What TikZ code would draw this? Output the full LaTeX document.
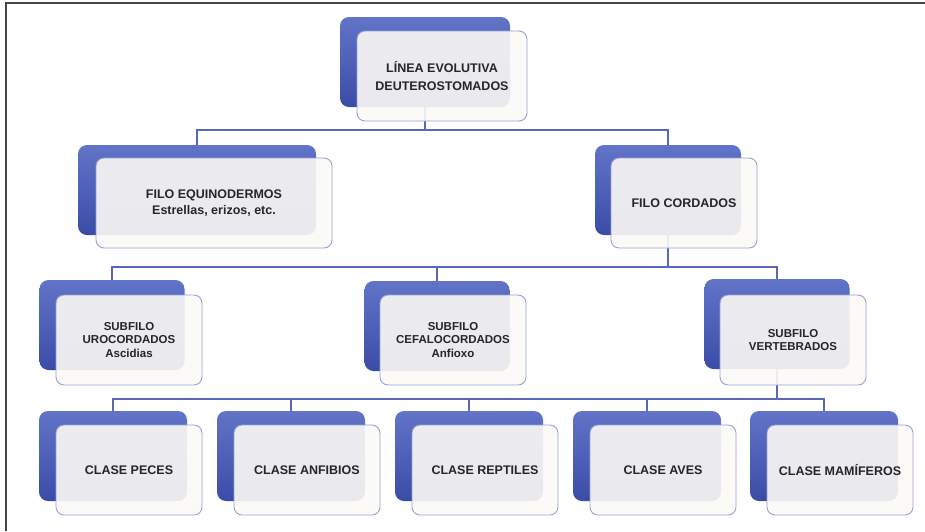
\documentclass[tikz,border=0pt]{standalone}
\usepackage{fontspec}
\setmainfont{Liberation Sans}
\usepackage{tikz}
\usetikzlibrary{positioning, calc, backgrounds}
\definecolor{backtop}{RGB}{98,116,200}
\definecolor{backbot}{RGB}{58,76,166}
\definecolor{linkblue}{RGB}{88,104,184}
\definecolor{edgeblue}{RGB}{150,160,214}
\definecolor{paneface}{RGB}{252,250,246}
\definecolor{textgray}{RGB}{38,38,40}
\definecolor{framegray}{RGB}{70,70,70}
\tikzset{
  back/.style     = {rectangle, rounded corners=9pt, top color=backtop,
                     bottom color=backbot, draw=none, inner sep=0pt,
                     minimum width=#1, minimum height=90pt},
  back/.default   = 146pt,
  front/.style    = {rectangle, rounded corners=8pt, draw=edgeblue,
                     line width=0.9pt, fill=paneface, fill opacity=0.9,
                     text opacity=1, text=textgray, inner sep=0pt,
                     align=center, minimum width=#1, minimum height=90pt},
  front/.default  = 146pt,
  lvlA/.style     = {font=\fontsize{12.5}{18}\selectfont\bfseries},
  lvlB/.style     = {font=\fontsize{12.5}{16.5}\selectfont\bfseries},
  lvlC/.style     = {font=\fontsize{11.5}{13.5}\selectfont\bfseries},
  conn/.style     = {draw=linkblue, line width=1.2pt},
}
\begin{document}
\begin{tikzpicture}[x=1pt, y=-1pt]

  \useasboundingbox (0,0) rectangle (925,531);

  %─── Frame ─────────────────────────────────────────────────────────────────
  \draw[framegray, line width=1.5pt] (6,531) -- (6,3) -- (925,3);

  %─── Line (top) ────────────────────────────────────────────────────────────
  \node[back=170pt] at (425, 62) (lineaB) {};
  \node[front=170pt, lvlA] at (442, 76) (linea) {LÍNEA EVOLUTIVA\\DEUTEROSTOMADOS};

  %─── Phyla ─────────────────────────────────────────────────────────────────
  \node[back=238pt] at (197, 190) (equiB) {};
  \node[front=236pt, lvlB] at (214, 203) (equi) {FILO EQUINODERMOS\\Estrellas, erizos, etc.};
  \node[back] at (668, 190) (cordB) {};
  \node[front, lvlB] at (684, 203) (cord) {FILO CORDADOS};

  %─── Subphyla ──────────────────────────────────────────────────────────────
  \node[back=145pt] at (112, 325) (uroB) {};
  \node[front, lvlC] at (129, 340) (uro) {SUBFILO\\UROCORDADOS\\Ascidias};
  \node[back=145pt] at (437, 326) (cefB) {};
  \node[front, lvlC] at (453, 340) (cef) {SUBFILO\\CEFALOCORDADOS\\Anfioxo};
  \node[back=145pt] at (777, 324) (vertB) {};
  \node[front, lvlC] at (793, 340) (vert) {SUBFILO\\VERTEBRADOS};

  %─── Classes ───────────────────────────────────────────────────────────────
  \node[back=148pt] at (113, 456) (pecesB) {};
  \node[front, lvlB] at (129, 470) (peces) {CLASE PECES};
  \node[back=148pt] at (291, 456) (anfB) {};
  \node[front, lvlB] at (307, 470) (anf) {CLASE ANFIBIOS};
  \node[back=148pt] at (469, 456) (repB) {};
  \node[front, lvlB] at (485, 470) (rep) {CLASE REPTILES};
  \node[back=148pt] at (647, 456) (avesB) {};
  \node[front, lvlB] at (663, 470) (aves) {CLASE AVES};
  \node[back=148pt] at (824, 456) (mamB) {};
  \node[front, lvlB] at (840, 470) (mam) {CLASE MAMÍFEROS};

  %─── Bus levels ────────────────────────────────────────────────────────────
  \coordinate (busA) at (0, 130);
  \coordinate (busB) at (0, 267);
  \coordinate (busC) at (0, 399);

  %─── Connectors (behind boxes) ─────────────────────────────────────────────
  \begin{pgfonlayer}{background}
    % line -> phyla
    \draw[conn] (lineaB.center) -- (lineaB.center |- busA) -| (equiB.center);
    \draw[conn] (lineaB.center |- busA) -| (cordB.center);

    % chordates -> subphyla
    \draw[conn] (cordB.center) -- (cordB.center |- busB) -| (uroB.center);
    \draw[conn] (cordB.center |- busB) -| (vertB.center);
    \draw[conn] (cefB.center |- busB) -- (cefB.center);

    % vertebrates -> classes
    \draw[conn] (vertB.center) -- (vertB.center |- busC) -| (pecesB.center);
    \draw[conn] (vertB.center |- busC) -| (mamB.center);
    \foreach \cls in {anfB, repB, avesB}
      \draw[conn] (\cls.center |- busC) -- (\cls.center);
  \end{pgfonlayer}

\end{tikzpicture}
\end{document}
